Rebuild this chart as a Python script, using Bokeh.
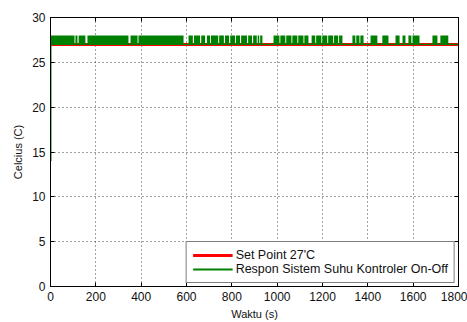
from bokeh.plotting import figure
from bokeh.models import Range1d, LinearAxis, FixedTicker, Legend, LegendItem
from bokeh.embed import file_html
from bokeh.resources import INLINE

# ---- data ----
x_ticks = [0, 200, 400, 600, 800, 1000, 1200, 1400, 1600, 1800]
y_ticks = [0, 5, 10, 15, 20, 25, 30]

setpoint_t = [0, 1800]
setpoint_y = [27, 27]

# initial jump of the response at t = 0
init_t = [0, 0]
init_y = [14, 27]

# on-off response: lower / upper switching level
low_level = 27
high_level = 28

# time intervals (s) where the response switches rapidly between 27 and 28
band_start = [0, 110, 124, 163, 353, 388,
              609, 633, 665, 690, 708, 744, 770, 793, 818, 841, 872, 894, 914, 925,
              984, 1014, 1040, 1067, 1093, 1120, 1152, 1172, 1199, 1225, 1251, 1273,
              1332, 1349, 1367,
              1412, 1464, 1522, 1553, 1579, 1597, 1685, 1720]
band_end = [106, 119, 154, 344, 384, 587,
            628, 660, 682, 704, 740, 765, 788, 814, 836, 867, 889, 910, 921, 935,
            1010, 1036, 1063, 1089, 1116, 1138, 1168, 1195, 1221, 1247, 1269, 1288,
            1345, 1363, 1381,
            1442, 1491, 1540, 1566, 1592, 1628, 1707, 1755]

# ---- build step envelope from the intervals ----
env_t = [0]
env_y = [low_level]
for s, e in zip(band_start, band_end):
    env_t += [s, s, e, e]
    env_y += [low_level, high_level, high_level, low_level]
env_t.append(1800)
env_y.append(low_level)

FONT = "Liberation Sans"
GREEN = "#008000"
RED = "#ff0000"

p = figure(width=467, height=322, output_backend="svg", toolbar_location=None,
           x_range=Range1d(0, 1800), y_range=Range1d(0, 30),
           min_border_left=50, min_border_top=17, min_border_right=9, min_border_bottom=20)
p.background_fill_color = "white"
p.border_fill_color = "white"
p.outline_line_color = "black"
p.outline_line_width = 1

# grid
for g in (p.xgrid, p.ygrid):
    g.grid_line_color = "black"
    g.grid_line_dash = "1 3"
    g.grid_line_alpha = 0.75
    g.grid_line_width = 1
p.xgrid.ticker = FixedTicker(ticks=x_ticks)
p.ygrid.ticker = FixedTicker(ticks=y_ticks)

def style_axis(ax, ticks, show_labels=True):
    ax.ticker = FixedTicker(ticks=ticks)
    ax.axis_line_color = "black"
    ax.major_tick_line_color = "black"
    ax.major_tick_in = 4
    ax.major_tick_out = 0
    ax.minor_tick_line_color = None
    ax.major_label_text_font = FONT
    ax.major_label_text_font_size = "12px"
    ax.major_label_text_color = "#111111"
    ax.axis_label_text_font = FONT
    ax.axis_label_text_font_size = "11px"
    ax.axis_label_text_font_style = "normal"
    ax.axis_label_text_color = "#111111"
    if not show_labels:
        ax.major_label_text_font_size = "0px"
        ax.major_label_text_color = None

style_axis(p.xaxis[0], x_ticks)
style_axis(p.yaxis[0], y_ticks)
p.xaxis[0].axis_label = "Waktu (s)"
p.yaxis[0].axis_label = "Celcius (C)"
p.xaxis[0].major_label_standoff = 5
p.xaxis[0].axis_label_standoff = 4
p.yaxis[0].major_label_standoff = 5
p.yaxis[0].axis_label_standoff = 5

top_ax = LinearAxis()
style_axis(top_ax, x_ticks, show_labels=False)
p.add_layout(top_ax, "above")
right_ax = LinearAxis()
style_axis(right_ax, y_ticks, show_labels=False)
p.add_layout(right_ax, "right")

# set point
r_sp = p.line(setpoint_t, setpoint_y, line_color=RED, line_width=3)
# response
p.varea(x=env_t, y1=low_level, y2=env_y, fill_color=GREEN)
p.line([0, 1800], [low_level, low_level], line_color=GREEN, line_width=1.2)
r_resp = p.line(init_t, init_y, line_color=GREEN, line_width=2)

legend = Legend(items=[LegendItem(label="Set Point 27'C", renderers=[r_sp]),
                       LegendItem(label="Respon Sistem Suhu Kontroler On-Off", renderers=[r_resp])],
                location="bottom_right")
legend.border_line_color = "black"
legend.border_line_width = 1
legend.background_fill_color = "white"
legend.background_fill_alpha = 1
legend.label_text_font = FONT
legend.label_text_font_size = "12.5px"
legend.label_text_color = "#111111"
legend.glyph_width = 40
legend.glyph_height = 14
legend.label_height = 14
legend.spacing = 0
legend.padding = 6
legend.margin = 3
legend.label_standoff = 3
p.add_layout(legend)

open("out.html", "w").write(file_html(p, INLINE))
